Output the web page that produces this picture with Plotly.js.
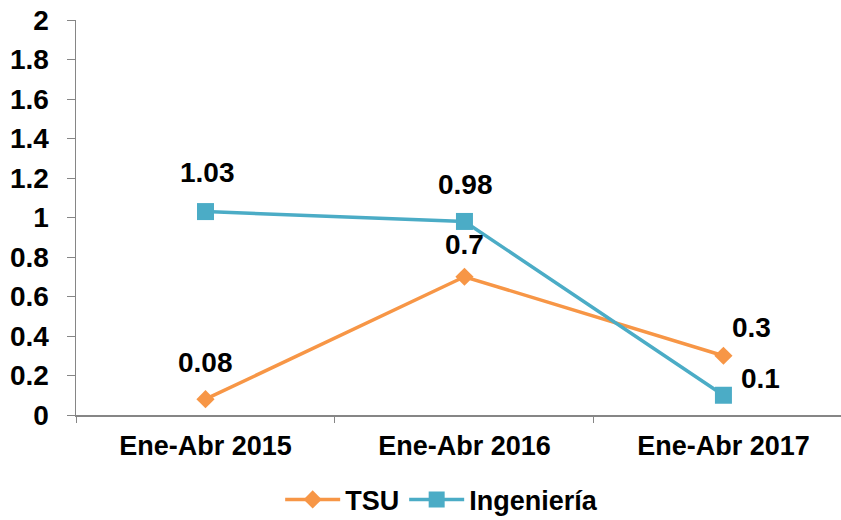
<!DOCTYPE html>
<html>
<head>
<meta charset="utf-8">
<script src="https://cdn.plot.ly/plotly-3.0.1.min.js"></script>
<style>html,body{margin:0;padding:0;background:#fff;}#chart{width:841px;height:520px;}</style>
</head>
<body>
<div id="chart"></div>
<script>
const categories = ["Ene-Abr 2015", "Ene-Abr 2016", "Ene-Abr 2017"];
const tsuValues = [0.08, 0.7, 0.3];
const ingValues = [1.03, 0.98, 0.1];
const tsuName = "TSU";
const ingName = "Ingeniería";

// label offsets in pixels (style only)
const tsuLabelShift = [[0, 37], [0, 32], [28, 28]];
const ingLabelShift = [[2, 39], [1, 37], [37, 17]];

const orange = "#F79646";
const blue = "#4BACC6";
const font = "Liberation Sans, Arial, sans-serif";

const traces = [
  {
    x: categories, y: tsuValues, name: tsuName, type: "scatter", mode: "lines+markers",
    line: {color: orange, width: 3.5},
    marker: {symbol: "diamond", size: 14, color: orange},
    cliponaxis: false
  },
  {
    x: categories, y: ingValues, name: ingName, type: "scatter", mode: "lines+markers",
    line: {color: blue, width: 3.5},
    marker: {symbol: "square", size: 17, color: blue},
    cliponaxis: false
  }
];

const annotations = [];
function addLabels(vals, shifts) {
  vals.forEach((v, i) => {
    annotations.push({
      x: categories[i], y: v, xref: "x", yref: "y", text: String(v),
      showarrow: false, xshift: shifts[i][0], yshift: shifts[i][1],
      font: {family: font, size: 28, color: "#000", weight: "bold"}
    });
  });
}
addLabels(tsuValues, tsuLabelShift);
addLabels(ingValues, ingLabelShift);

const layout = {
  width: 841, height: 520,
  margin: {l: 76, r: 0, t: 20, b: 105, autoexpand: false},
  paper_bgcolor: "#fff", plot_bgcolor: "#fff",
  font: {family: font, color: "#000"},
  showlegend: true,
  legend: {
    orientation: "h", x: 0.478, xanchor: "center", y: -0.215, yanchor: "middle",
    font: {family: font, size: 27, color: "#000", weight: "bold"},
    traceorder: "normal", itemwidth: 55
  },
  xaxis: {
    type: "category", range: [-0.5, 2.454],
    showgrid: false, zeroline: false,
    showline: true, linecolor: "#868686", linewidth: 1.5,
    ticks: "outside", tickson: "boundaries", ticklen: 6, tickcolor: "#868686",
    tickfont: {family: font, size: 27, color: "#000", weight: "bold"},
    ticklabelstandoff: 6
  },
  yaxis: {
    range: [0, 2], dtick: 0.2, tick0: 0,
    showgrid: false, zeroline: false,
    showline: true, linecolor: "#868686", linewidth: 1.5,
    ticks: "outside", ticklen: 8, tickcolor: "#868686",
    tickfont: {family: font, size: 28, color: "#000", weight: "bold"},
    ticklabelstandoff: 12
  },
  annotations: annotations
};

Plotly.newPlot("chart", traces, layout, {displayModeBar: false, staticPlot: true});
</script>
</body>
</html>
